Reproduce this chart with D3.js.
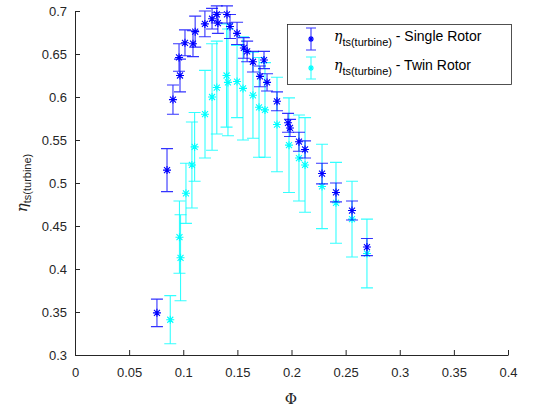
<!DOCTYPE html>
<html>
<head>
<meta charset="utf-8">
<script src="https://cdn.jsdelivr.net/npm/d3@7"></script>
<style>
  body { margin: 0; background: #fff; }
  svg { font-family: Helvetica, Arial, "Liberation Sans", sans-serif; }
</style>
</head>
<body>
<div id="chart"></div>
<script>
// single rotor: flow coefficient, efficiency, half error
const singlePhi = [0.0757, 0.085, 0.0905, 0.097, 0.0961, 0.1016, 0.109, 0.111, 0.120, 0.1266,
    0.131, 0.132, 0.1404, 0.1432, 0.1497, 0.156, 0.159, 0.1644, 0.1746, 0.1709,
    0.1774, 0.1866, 0.1968, 0.1986, 0.2069, 0.2125, 0.2282, 0.2411, 0.2559, 0.2697];
const singleEta = [0.349, 0.515, 0.597, 0.625, 0.646, 0.663, 0.662, 0.676, 0.685, 0.691,
    0.696, 0.686, 0.696, 0.682, 0.674, 0.657, 0.653, 0.641, 0.643, 0.624,
    0.617, 0.595, 0.570, 0.564, 0.548, 0.539, 0.511, 0.489, 0.468, 0.4255];
const singleErr = [0.016, 0.025, 0.017, 0.019, 0.016, 0.015, 0.015, 0.018, 0.015, 0.012,
    0.010, 0.012, 0.010, 0.014, 0.013, 0.012, 0.012, 0.012, 0.010, 0.012,
    0.010, 0.011, 0.011, 0.010, 0.011, 0.010, 0.012, 0.011, 0.011, 0.010];

// twin rotor
const twinPhi = [0.088, 0.0965, 0.0975, 0.1025, 0.1080, 0.1105, 0.1201, 0.1266, 0.131, 0.140,
    0.1413, 0.1497, 0.1552, 0.1644, 0.170, 0.1755, 0.1866, 0.1977, 0.2069, 0.2125,
    0.2282, 0.2411, 0.2559, 0.2697];
const twinEta = [0.341, 0.437, 0.413, 0.488, 0.521, 0.542, 0.580, 0.600, 0.611, 0.625,
    0.617, 0.618, 0.610, 0.602, 0.588, 0.585, 0.568, 0.544, 0.529, 0.521,
    0.496, 0.477, 0.458, 0.418];
const twinErr = [0.028, 0.042, 0.050, 0.035, 0.050, 0.040, 0.051, 0.062, 0.054, 0.060,
    0.062, 0.042, 0.060, 0.050, 0.058, 0.055, 0.055, 0.055, 0.050, 0.055,
    0.049, 0.047, 0.044, 0.040];

const xTicks = [0, 0.05, 0.1, 0.15, 0.2, 0.25, 0.3, 0.35, 0.4];
const yTicks = [0.3, 0.35, 0.4, 0.45, 0.5, 0.55, 0.6, 0.65, 0.7];
const legendLabels = ["Single Rotor", "Twin Rotor"];

const width = 533, height = 409;
const axisColor = "#262626";

const svg = d3.select("#chart").append("svg")
    .attr("width", width)
    .attr("height", height);

const x = d3.scaleLinear().domain([0, 0.4]).range([75, 508]);
const y = d3.scaleLinear().domain([0.3, 0.7]).range([355, 11]);

function drawSeries(phi, eta, err, color) {
    const data = phi.map((p, i) => ({ p: p, e: eta[i], d: err[i] }));
    const g = svg.append("g").attr("stroke", color).attr("fill", "none");
    const cap = 6;
    g.selectAll("path.bar").data(data).enter().append("path")
        .attr("class", "bar")
        .attr("stroke-width", 1.1)
        .attr("stroke-opacity", 0.8)
        .attr("d", d => {
            const cx = x(d.p), y1 = y(d.e + d.d), y2 = y(d.e - d.d);
            return `M${cx},${y1}V${y2}M${cx - cap},${y1}H${cx + cap}M${cx - cap},${y2}H${cx + cap}`;
        });
    const m = 4;
    g.selectAll("path.mk").data(data).enter().append("path")
        .attr("class", "mk")
        .attr("stroke-width", 1.1)
        .attr("d", d => {
            const cx = x(d.p), cy = y(d.e), k = m * 0.75;
            return `M${cx - m},${cy}H${cx + m}M${cx},${cy - m}V${cy + m}` +
                `M${cx - k},${cy - k}L${cx + k},${cy + k}M${cx - k},${cy + k}L${cx + k},${cy - k}`;
        });
}

// axes
const xAxis = svg.append("g").attr("transform", "translate(0,355)")
    .call(d3.axisBottom(x).tickValues(xTicks).tickSizeInner(-5).tickSizeOuter(0)
        .tickFormat(d => d3.format("~g")(d)));
const yAxis = svg.append("g").attr("transform", "translate(75,0)")
    .call(d3.axisLeft(y).tickValues(yTicks).tickSizeInner(-5).tickSizeOuter(0)
        .tickFormat(d => d3.format("~g")(d)));

[xAxis, yAxis].forEach(a => {
    a.select(".domain").attr("stroke", axisColor);
    a.selectAll(".tick line").attr("stroke", axisColor);
    a.selectAll(".tick text").attr("fill", axisColor).attr("font-size", 13)
        .attr("font-family", "Helvetica, Arial, 'Liberation Sans', sans-serif");
});
xAxis.selectAll(".tick text").attr("dy", "1.05em").attr("y", 8);
yAxis.selectAll(".tick text").attr("x", -8);

drawSeries(twinPhi, twinEta, twinErr, "#00ffff");
drawSeries(singlePhi, singleEta, singleErr, "#0000ff");

// axis labels
svg.append("text")
    .attr("x", 291).attr("y", 404)
    .attr("text-anchor", "middle")
    .attr("font-size", 15)
    .attr("font-family", "'DejaVu Serif', 'Liberation Serif', serif")
    .attr("fill", axisColor)
    .text("Φ");

const yl = svg.append("text")
    .attr("transform", "translate(27,183) rotate(-90)")
    .attr("text-anchor", "middle")
    .attr("fill", axisColor)
    .attr("font-size", 15);
yl.append("tspan").attr("font-style", "italic")
    .attr("font-family", "'DejaVu Serif', 'Liberation Serif', serif").text("η");
yl.append("tspan").attr("font-size", 11).attr("dy", 4).text("ts(turbine)");

// legend
const lg = svg.append("g");
lg.append("rect")
    .attr("x", 287.5).attr("y", 24.5).attr("width", 224).attr("height", 60)
    .attr("fill", "#fff").attr("stroke", axisColor).attr("stroke-width", 0.8);

const legendColors = ["#0000ff", "#00ffff"];
legendLabels.forEach((lab, i) => {
    const cy = 39 + i * 29;
    const cx = 311;
    const g = lg.append("g").attr("stroke", legendColors[i]).attr("fill", "none").attr("stroke-width", 1.1);
    g.append("path").attr("stroke-opacity", 0.8)
        .attr("d", `M${cx},${cy - 11}V${cy + 11}M${cx - 5},${cy - 11}H${cx + 5}M${cx - 5},${cy + 11}H${cx + 5}`);
    g.append("path").attr("d", `M${cx - 3},${cy}H${cx + 3}M${cx},${cy - 3}V${cy + 3}M${cx - 2},${cy - 2}L${cx + 2},${cy + 2}M${cx - 2},${cy + 2}L${cx + 2},${cy - 2}`);
    const t = lg.append("text").attr("x", 334).attr("y", cy + 2)
        .attr("fill", "#000").attr("font-size", 14);
    t.append("tspan").attr("font-style", "italic")
        .attr("font-family", "'DejaVu Serif', 'Liberation Serif', serif").text("η");
    t.append("tspan").attr("font-size", 11).attr("dy", 5).text("ts(turbine)");
    t.append("tspan").attr("dy", -5).text(" - " + lab);
});
</script>
</body>
</html>
